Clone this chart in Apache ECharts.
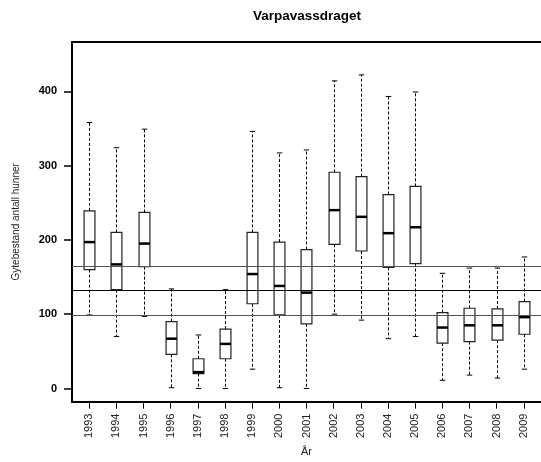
<!DOCTYPE html>
<html>
<head>
<meta charset="utf-8">
<script src="https://cdn.jsdelivr.net/npm/echarts@6/dist/echarts.min.js"></script>
<style>
  html, body { margin: 0; padding: 0; background: #fff; }
  #chart { width: 541px; height: 462px; }
</style>
</head>
<body>
<div id="chart"></div>
<script>
// Spawning stock (number of females) per year, Varpa river system
const years = ['1993', '1994', '1995', '1996', '1997', '1998', '1999', '2000', '2001',
               '2002', '2003', '2004', '2005', '2006', '2007', '2008', '2009'];
const whiskerLow  = [99, 70, 97, 1, 0, 0, 26, 1, 0, 100, 92, 67, 70, 11, 18, 14, 26];
const quartile1   = [160, 133, 164, 46, 20, 40, 114, 99, 87, 194, 185, 163, 168, 61, 63, 65, 73];
const medians     = [197, 167, 195, 67, 22, 60, 154, 138, 129, 240, 231, 209, 217, 82, 85, 85, 96];
const quartile3   = [239, 210, 237, 90, 40, 80, 210, 197, 187, 291, 285, 261, 272, 102, 108, 107, 117];
const whiskerHigh = [358, 324, 349, 134, 72, 133, 346, 317, 321, 414, 422, 393, 399, 155, 162, 162, 177];
// Reference levels drawn across the whole plot
const refLevels = [165, 132, 99];
const yTicks = [0, 100, 200, 300, 400];

const FONT = 'Liberation Sans, Arial, sans-serif';
const BOX_WIDTH = 0.4;           // in x-axis units
const X_MIN = 0.365, X_MAX = 17.635;
const positions = years.map((_, i) => i + 1);
const boxData = years.map((_, i) => [i + 1, whiskerLow[i], quartile1[i], medians[i], quartile3[i], whiskerHigh[i]]);

function renderBox(params, api) {
  const x = api.value(0);
  const lo = api.coord([x, api.value(1)]);
  const q1 = api.coord([x, api.value(2)]);
  const md = api.coord([x, api.value(3)]);
  const q3 = api.coord([x, api.value(4)]);
  const hi = api.coord([x, api.value(5)]);
  const half = api.size([BOX_WIDTH, 0])[0] / 2;
  const cap = half / 2;
  const cx = Math.round(lo[0]) + 0.5;
  const dashed = { stroke: '#000', lineWidth: 1, lineDash: [3, 2] };
  const solid = { stroke: '#000', lineWidth: 1 };
  return {
    type: 'group',
    children: [
      { type: 'line', shape: { x1: cx, y1: q3[1], x2: cx, y2: hi[1] }, style: dashed },
      { type: 'line', shape: { x1: cx, y1: q1[1], x2: cx, y2: lo[1] }, style: dashed },
      { type: 'line', shape: { x1: cx - cap, y1: hi[1], x2: cx + cap, y2: hi[1] }, style: solid },
      { type: 'line', shape: { x1: cx - cap, y1: lo[1], x2: cx + cap, y2: lo[1] }, style: solid },
      { type: 'rect', shape: { x: cx - half, y: q3[1], width: half * 2, height: q1[1] - q3[1] },
        style: { fill: '#fff', stroke: '#222', lineWidth: 1.2 } },
      { type: 'line', shape: { x1: cx - half, y1: md[1], x2: cx + half, y2: md[1] },
        style: { stroke: '#000', lineWidth: 2.5 } }
    ]
  };
}

const chart = echarts.init(document.getElementById('chart'));
chart.setOption({
  animation: false,
  backgroundColor: '#fff',
  title: {
    text: 'Varpavassdraget',
    left: 307,
    top: 9,
    padding: 0,
    textAlign: 'center',
    textStyle: { fontFamily: FONT, fontSize: 13.5, fontWeight: 'bold', color: '#000' }
  },
  grid: { left: 72, top: 42, right: -1, bottom: 57 },
  xAxis: [
    {
      type: 'value',
      position: 'bottom',
      min: X_MIN, max: X_MAX,
      name: 'År',
      nameLocation: 'middle',
      nameGap: 31,
      nameTextStyle: { fontFamily: FONT, fontSize: 11, color: '#222' },
      axisLine: { show: true, onZero: false, lineStyle: { color: '#000', width: 2 } },
      axisTick: { show: true, customValues: positions, length: 7, lineStyle: { color: '#000', width: 1 } },
      axisLabel: {
        customValues: positions,
        rotate: 90,
        margin: 12,
        formatter: v => years[Math.round(v) - 1],
        fontFamily: FONT, fontSize: 11, color: '#222'
      },
      splitLine: { show: false }
    },
    {
      // top edge of the plot frame
      type: 'value',
      position: 'top',
      min: X_MIN, max: X_MAX,
      axisLine: { show: true, onZero: false, lineStyle: { color: '#000', width: 2 } },
      axisTick: { show: false },
      axisLabel: { show: false },
      splitLine: { show: false }
    }
  ],
  yAxis: {
    type: 'value',
    min: -17.7, max: 466.3,
    name: 'Gytebestand antall hunner',
    nameLocation: 'middle',
    nameGap: 51,
    nameTextStyle: { fontFamily: FONT, fontSize: 10, color: '#222' },
    axisLine: { show: true, onZero: false, lineStyle: { color: '#000', width: 2 } },
    axisTick: { show: true, customValues: yTicks, length: 8, lineStyle: { color: '#000', width: 1.5 } },
    axisLabel: {
      customValues: yTicks,
      margin: 15,
      fontFamily: FONT, fontSize: 11, fontWeight: 'bold', color: '#000'
    },
    splitLine: { show: false }
  },
  series: [
    {
      type: 'custom',
      renderItem: renderBox,
      data: boxData,
      encode: { x: 0, y: [1, 2, 3, 4, 5] },
      z: 2,
      silent: true
    },
    {
      type: 'line',
      data: [],
      z: 3,
      silent: true,
      markLine: {
        silent: true,
        symbol: 'none',
        label: { show: false },
        data: refLevels.map((v, i) => ({
          yAxis: v,
          lineStyle: { color: i === 1 ? '#000' : '#555', width: 1, type: 'solid' }
        }))
      }
    }
  ]
});
</script>
</body>
</html>
